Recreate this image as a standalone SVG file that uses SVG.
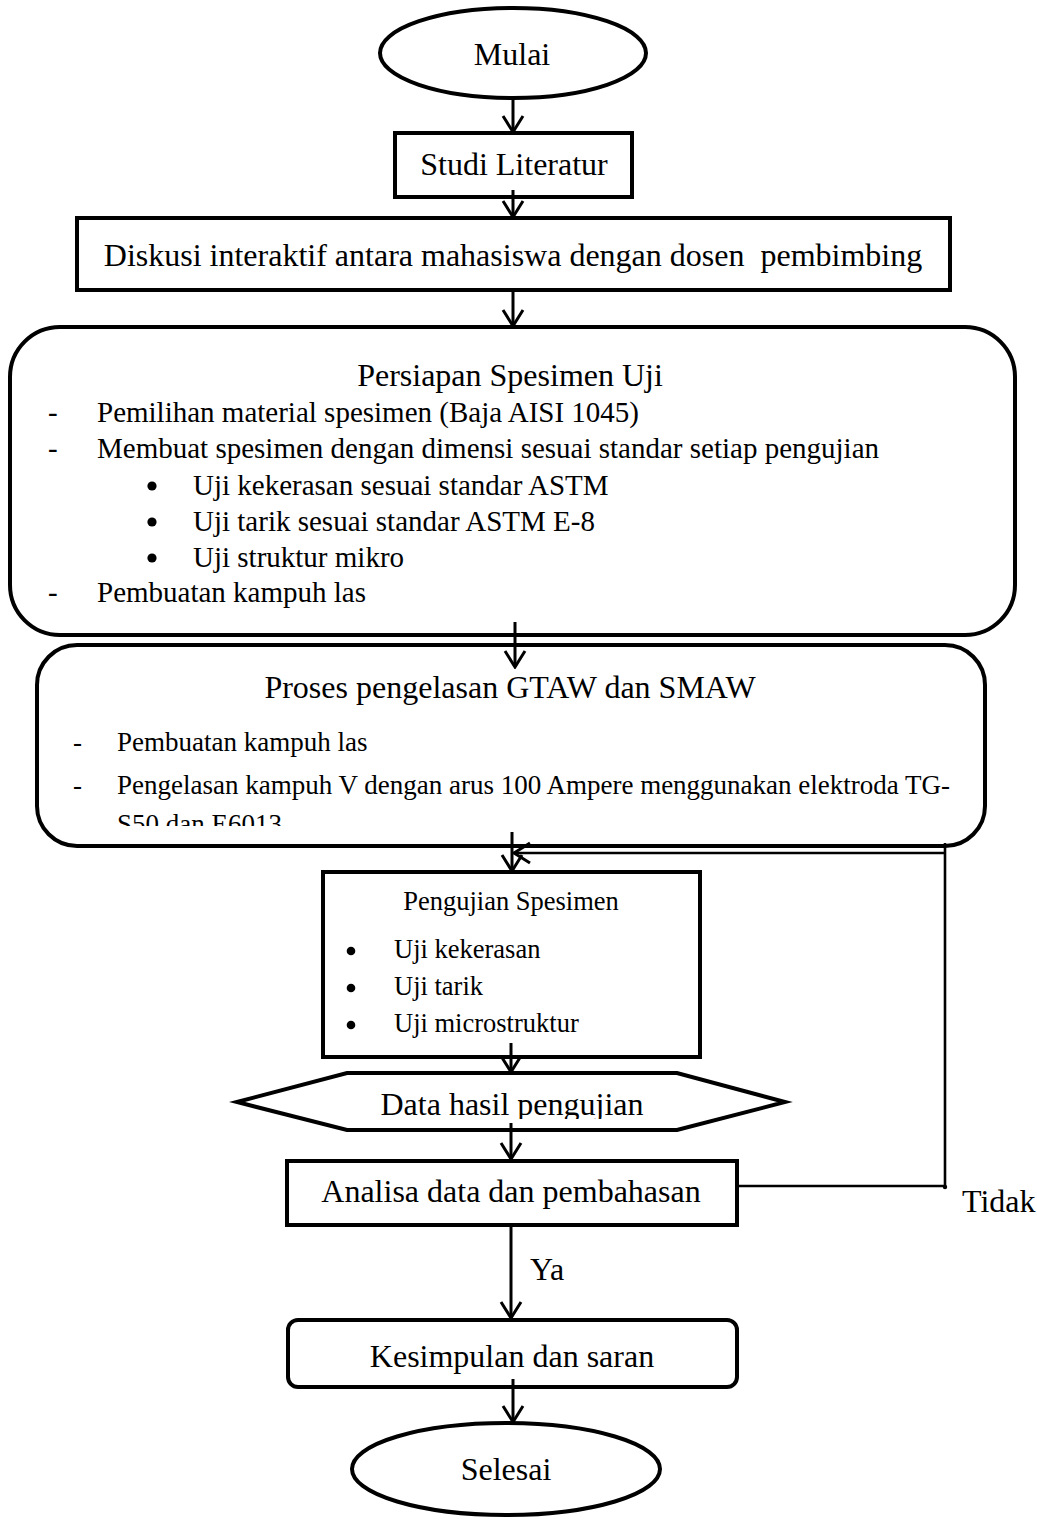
<svg xmlns="http://www.w3.org/2000/svg" width="1037" height="1522" viewBox="0 0 1037 1522">
<style>
.box{fill:#fff;stroke:#000;stroke-width:4}
.t{font-family:"Liberation Serif","Times New Roman",serif;fill:#000}
.t32{font-size:32px}
.t29{font-size:29px}
.t27{font-size:27px}
.t265{font-size:26.5px}
.c{text-anchor:middle}
.con{fill:none;stroke:#000;stroke-width:3}
.fb{fill:none;stroke:#000;stroke-width:2.6}
</style>
<defs>
<marker id="ah" viewBox="0 0 20 24" refX="18" refY="12" markerWidth="20" markerHeight="24" markerUnits="userSpaceOnUse" orient="auto">
<path d="M2,2 L18,12 L2,22" fill="none" stroke="#000" stroke-width="3"/>
</marker>
<clipPath id="clipProses"><rect x="0" y="640" width="1037" height="186"/></clipPath>
<clipPath id="clipData"><rect x="0" y="1070" width="1037" height="49"/></clipPath>
</defs>
<rect width="1037" height="1522" fill="#fff"/>

<g id="mulai">
<ellipse class="box" cx="513" cy="53" rx="133" ry="45"/>
<text class="t t32 c" x="512" y="65">Mulai</text>
</g>

<g id="studi">
<rect class="box" x="395" y="133" width="237" height="64"/>
<text class="t t32 c" x="514" y="175">Studi Literatur</text>
</g>

<g id="diskusi">
<rect class="box" x="77" y="218" width="873" height="72"/>
<text class="t t32 c" x="513" y="266" xml:space="preserve">Diskusi interaktif antara mahasiswa dengan dosen  pembimbing</text>
</g>

<g id="persiapan">
<rect class="box" x="10" y="327" width="1005" height="308" rx="50" ry="50"/>
<text class="t t32 c" x="510" y="386">Persiapan Spesimen Uji</text>
<text class="t t29" x="48" y="422">-</text>
<text class="t t29" x="97" y="422">Pemilihan material spesimen (Baja AISI 1045)</text>
<text class="t t29" x="48" y="458">-</text>
<text class="t t29" x="97" y="458">Membuat spesimen dengan dimensi sesuai standar setiap pengujian</text>
<circle cx="152" cy="486" r="4.6"/>
<text class="t t29" x="193" y="495">Uji kekerasan sesuai standar ASTM</text>
<circle cx="152" cy="522" r="4.6"/>
<text class="t t29" x="193" y="531">Uji tarik sesuai standar ASTM E-8</text>
<circle cx="152" cy="558" r="4.6"/>
<text class="t t29" x="193" y="567">Uji struktur mikro</text>
<text class="t t29" x="48" y="602">-</text>
<text class="t t29" x="97" y="602">Pembuatan kampuh las</text>
</g>

<g id="proses">
<rect class="box" x="37" y="645" width="948" height="201" rx="40" ry="40"/>
<text class="t t32 c" x="510" y="698">Proses pengelasan GTAW dan SMAW</text>
<g clip-path="url(#clipProses)">
<text class="t t27" x="73" y="751">-</text>
<text class="t t27" x="117" y="751">Pembuatan kampuh las</text>
<text class="t t27" x="73" y="794">-</text>
<text class="t t27" x="117" y="794">Pengelasan kampuh V dengan arus 100 Ampere menggunakan elektroda TG-</text>
<text class="t t27" x="117" y="833">S50 dan E6013</text>
</g>
</g>

<g id="pengujian">
<rect class="box" x="323" y="872" width="377" height="185"/>
<text class="t t265 c" x="511" y="910">Pengujian Spesimen</text>
<circle cx="351" cy="951" r="4.3"/>
<text class="t t265" x="394" y="958">Uji kekerasan</text>
<circle cx="351" cy="988" r="4.3"/>
<text class="t t265" x="394" y="995">Uji tarik</text>
<circle cx="351" cy="1025" r="4.3"/>
<text class="t t265" x="394" y="1032">Uji microstruktur</text>
</g>

<g id="data">
<polygon class="box" points="237,1102 347,1073 677,1073 785,1102 677,1130 347,1130"/>
<text class="t t32 c" x="512" y="1115" clip-path="url(#clipData)">Data hasil pengujian</text>
</g>

<g id="analisa">
<rect class="box" x="287" y="1161" width="450" height="64"/>
<text class="t t32 c" x="511" y="1202">Analisa data dan pembahasan</text>
</g>

<g id="kesimpulan">
<rect class="box" x="288" y="1320" width="449" height="67" rx="10" ry="10"/>
<text class="t t32 c" x="512" y="1367">Kesimpulan dan saran</text>
</g>

<g id="selesai">
<ellipse class="box" cx="506" cy="1469" rx="154" ry="46"/>
<text class="t t32 c" x="506" y="1480">Selesai</text>
</g>

<g id="connectors">
<path class="con" d="M513,98 V132" marker-end="url(#ah)"/>
<path class="con" d="M513,190 V217" marker-end="url(#ah)"/>
<path class="con" d="M513,290 V326" marker-end="url(#ah)"/>
<path class="con" d="M515,622 V667" marker-end="url(#ah)"/>
<path class="con" d="M512,832 V871" marker-end="url(#ah)"/>
<path class="fb" d="M737,1186 H945 V843"/>
<path class="fb" d="M945,853 H514" marker-end="url(#ah)"/>
<circle cx="945" cy="1187" r="2.2"/>
<path class="con" d="M511,1043 V1072" marker-end="url(#ah)"/>
<path class="con" d="M511,1123 V1159" marker-end="url(#ah)"/>
<path class="con" d="M511,1225 V1318" marker-end="url(#ah)"/>
<path class="con" d="M513,1379 V1422" marker-end="url(#ah)"/>
<text class="t t32" x="530" y="1280">Ya</text>
<text class="t t32" x="962" y="1212">Tidak</text>
</g>
</svg>
